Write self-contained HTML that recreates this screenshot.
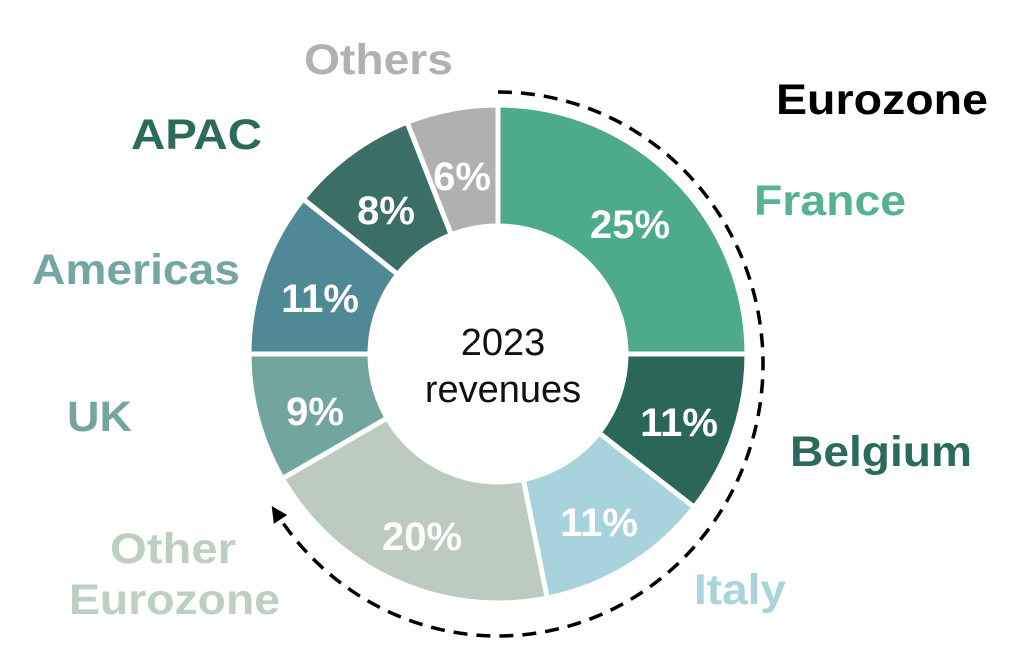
<!DOCTYPE html>
<html><head><meta charset="utf-8"><style>
html,body{margin:0;padding:0;background:#fff;}
svg{display:block;}
text{font-family:"Liberation Sans",Arial,sans-serif;font-weight:bold;}
</style></head><body>
<svg width="1024" height="669" viewBox="0 0 1024 669" xmlns="http://www.w3.org/2000/svg">
<g id="donut"></g>
<path id="arc" fill="none" stroke="#000" stroke-width="3.5" stroke-dasharray="14,9"/>
<path id="arrow" fill="#000"/>
<g fill="#fff" font-size="40" text-anchor="middle">
<text x="630" y="238">25%</text>
<text x="679" y="436">11%</text>
<text x="599" y="536">11%</text>
<text x="422" y="550">20%</text>
<text x="315" y="425">9%</text>
<text x="320" y="312">11%</text>
<text x="386" y="224">8%</text>
<text x="462" y="190">6%</text>
</g>
<g font-size="38" text-anchor="middle" fill="#111">
<text x="503" y="355" style="font-weight:normal">2023</text>
<text x="503" y="402" style="font-weight:normal">revenues</text>
</g>
<g font-size="43">
<text x="776" y="114" fill="#000" textLength="212" lengthAdjust="spacingAndGlyphs">Eurozone</text>
<text x="754" y="215" fill="#55b391" textLength="152" lengthAdjust="spacingAndGlyphs">France</text>
<text x="790" y="466" fill="#2c6a5c" textLength="182" lengthAdjust="spacingAndGlyphs">Belgium</text>
<text x="694" y="604" fill="#a9d4dd" textLength="92" lengthAdjust="spacingAndGlyphs">Italy</text>
<text x="110" y="563" fill="#bccfc1" textLength="126" lengthAdjust="spacingAndGlyphs">Other</text>
<text x="69" y="614" fill="#bccfc1" textLength="211" lengthAdjust="spacingAndGlyphs">Eurozone</text>
<text x="67" y="431" fill="#75a69e" textLength="65" lengthAdjust="spacingAndGlyphs">UK</text>
<text x="32" y="284" fill="#74a7a3" textLength="208" lengthAdjust="spacingAndGlyphs">Americas</text>
<text x="131" y="149" fill="#2c6a5c" textLength="131" lengthAdjust="spacingAndGlyphs">APAC</text>
<text x="304" y="74" fill="#b1b1b1" textLength="149" lengthAdjust="spacingAndGlyphs">Others</text>
</g>
</svg>
<script>
const cx=498,cy=354,R=249,r=128;
const segs=[[0,90,'#4eaa8c'],[90,128,'#2a6759'],[128,168.6,'#a8d3dc'],[168.6,240,'#bccbbf'],[240,270,'#72a59e'],[270,308.5,'#4e8995'],[308.5,338.6,'#3a6e67'],[338.6,360,'#b0b0b0']];
function p(a,rad){const t=a*Math.PI/180;return [cx+rad*Math.sin(t),cy-rad*Math.cos(t)];}
let h='';
for(const [a,b,c] of segs){
 const [x1,y1]=p(a,R),[x2,y2]=p(b,R),[x3,y3]=p(b,r),[x4,y4]=p(a,r);
 const l=(b-a)>180?1:0;
 h+=`<path d="M${x1},${y1} A${R},${R} 0 ${l} 1 ${x2},${y2} L${x3},${y3} A${r},${r} 0 ${l} 0 ${x4},${y4} Z" fill="${c}" stroke="#fff" stroke-width="5" stroke-linejoin="miter"/>`;
}
document.getElementById('donut').innerHTML=h;
const ecx=498,ecy=364,rx=265,ry=272,EA=236;
function e(a){const t=a*Math.PI/180;return [ecx+rx*Math.sin(t),ecy-ry*Math.cos(t)];}
const [sx,sy]=e(0),[ex,ey]=e(EA);
document.getElementById('arc').setAttribute('d',`M${sx},${sy} A${rx},${ry} 0 1 1 ${ex},${ey}`);
const t=EA*Math.PI/180; let dx=rx*Math.cos(t),dy=ry*Math.sin(t); const n=Math.hypot(dx,dy); dx/=n; dy/=n;
const tip=[ex+dx*12,ey+dy*12]; const nx=-dy,ny=dx;
const b1=[ex-dx*4+nx*8,ey-dy*4+ny*8],b2=[ex-dx*4-nx*8,ey-dy*4-ny*8];
document.getElementById('arrow').setAttribute('d',`M${tip[0]},${tip[1]} L${b1[0]},${b1[1]} L${b2[0]},${b2[1]} Z`);
</script>
</body></html>
